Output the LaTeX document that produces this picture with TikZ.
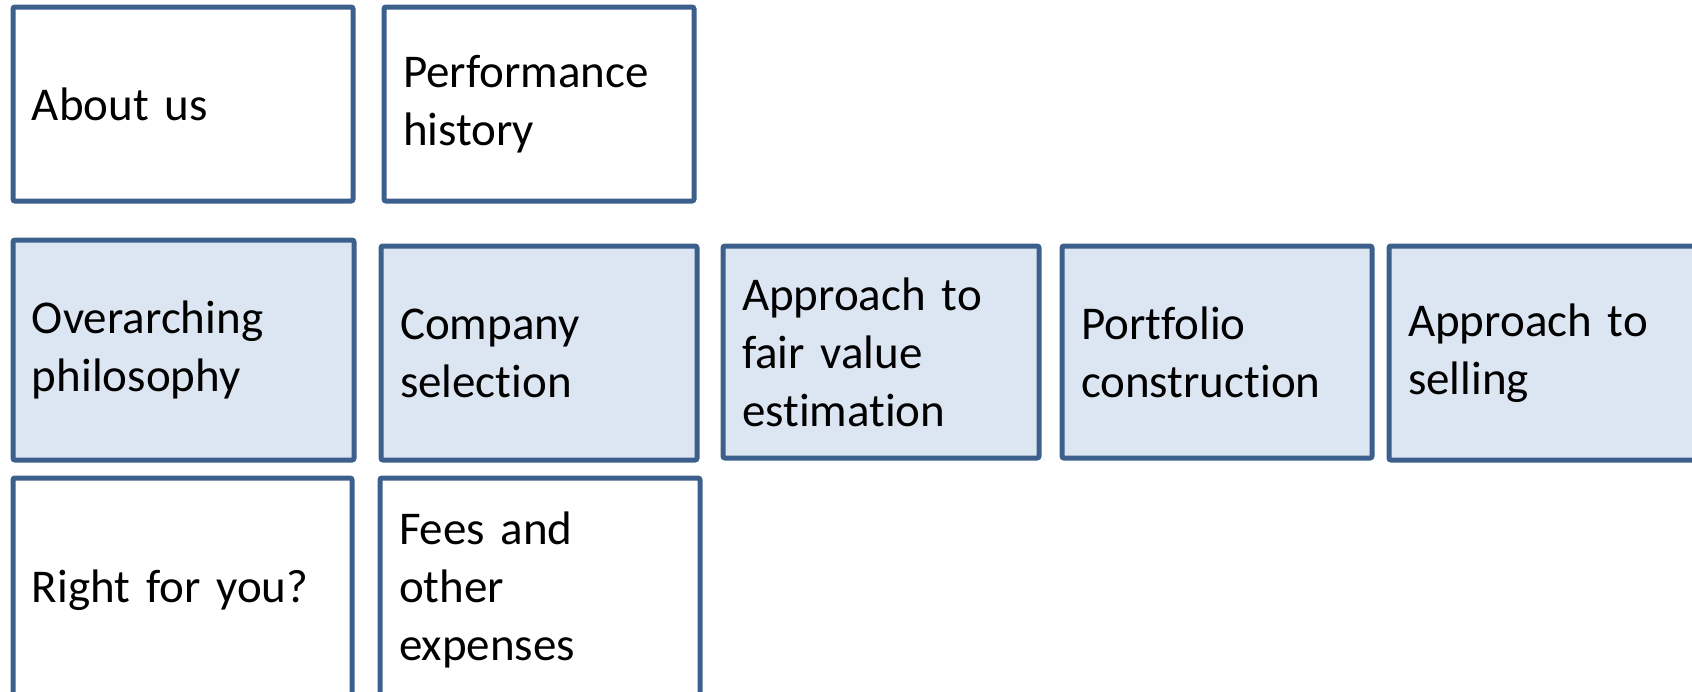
\documentclass[tikz,border=0pt]{standalone}
\usepackage{fontspec}
\setmainfont{Carlito}[Ligatures={NoCommon,NoContextual}]
\definecolor{bordc}{HTML}{3C5F8C}
\definecolor{fillc}{HTML}{DCE6F2}
\newcommand\boxfont{\fontsize{23.5}{29}\selectfont\fontdimen2\font=0.17em\fontdimen3\font=0pt\fontdimen4\font=0pt}
\tikzset{
  box/.style={draw=bordc, line width=2.5pt, rectangle, rounded corners=1pt, anchor=north west,
    inner xsep=9.5pt, inner ysep=0pt, outer sep=0pt, align=left,
    font=\boxfont},
  plainbox/.style={box, fill=white},
  bluebox/.style={box, fill=fillc},
}
\newcommand\mybox[7]{% style, name, x, y, w, h, text
  \node[#1, minimum width=#5*0.5pt, minimum height=#6*0.5pt, text width=#5*0.5pt-19pt] (#2) at (#3,#4) {#7};}
\begin{document}
\begin{tikzpicture}[x=0.5pt,y=-0.5pt]
\useasboundingbox (0,0) rectangle (1692,691);
\mybox{plainbox}{about}{13}{7}{340}{194}{About us}
\mybox{plainbox}{perf}{384}{7}{310}{194}{Performance\\history}
\mybox{bluebox}{phil}{13}{240}{341}{220}{Overarching\\philosophy}
\mybox{bluebox}{comp}{381}{246}{316}{214}{Company\\selection}
\mybox{bluebox}{fair}{723}{246}{316}{212}{Approach to\\fair value\\estimation}
\mybox{bluebox}{port}{1062}{246}{310}{212}{Portfolio\\construction}
\mybox{bluebox}{sell}{1389}{246}{313}{214}{Approach to\\selling}
\mybox{plainbox}{right}{13}{478}{339}{224}{Right for you?}
\mybox{plainbox}{fees}{380}{478}{320}{224}{Fees and\\other\\expenses}
\end{tikzpicture}
\end{document}
